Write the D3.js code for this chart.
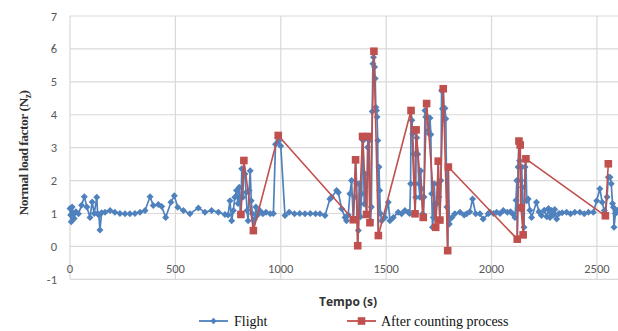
<!DOCTYPE html>
<html>
<head>
<meta charset="utf-8">
<script src="https://cdn.jsdelivr.net/npm/d3@7"></script>
<style>
  html, body { margin: 0; padding: 0; background: #fff; }
  svg { display: block; }
</style>
</head>
<body>
<svg id="chart" width="618" height="331"></svg>
<script>
// ---- DATA ----
const flightTime = [
  0,3,6,10,15,20,28,40,55,68,80,95,105,115,127,131,137,142,150,166,190,213,237,261,284,308,332,356,380,395,419,435,454,479,495,511,538,569,609,640,672,704,735,750,759,767,
  775,782,790,797,803,808,811,815,820,825,830,835,840,845,850,855,860,865,870,876,882,890,900,915,
  930,950,965,975,985,990,1000,1020,1040,1065,1090,1115,1140,1165,1186,1210,1233,1241,1265,1273,1289,1305,1312,
  1320,1328,1336,1344,1350,1355,1360,1365,1368,1372,1378,1384,1388,1391,1396,1400,1407,1412,1415,1420,1423,1426,1430,1434,1437,1440,1442,1445,1448,1451,1454,1457,1460,1463,1466,1469,1473,1479,
  1494,1510,1518,1534,1557,1573,1589,1605,
  1612,1616,1618,1622,1626,1630,1634,1637,1640,1642,1645,1650,1655,1660,1664,1668,1673,1676,1680,1684,1688,1692,1696,1700,1704,1708,1712,1716,1720,1724,1728,1732,1735,1740,1745,1747,1750,1755,1760,1763,1767,1771,1775,1779,1783,1788,1792,1795,1800,
  1812,1826,1850,1870,1882,1897,1910,1925,1945,1960,1984,1992,2010,2024,2040,2056,2075,2090,2100,2111,
  2116,2120,2122,2126,2130,2133,2136,2138,2140,2143,2146,2150,2154,2159,2163,2167,2174,2182,2190,
  2213,2225,2237,2250,2262,2270,2277,2285,2293,2300,2309,2320,2335,2356,2375,2395,2419,2440,2460,2483,2499,2514,2525,2535,2540,2548,2554,2562,2568,2574,2578,2581,2588,2593,2600
];
const flightValue = [
  1.15,0.95,0.75,1.2,1.0,0.85,1.05,0.99,1.25,1.51,1.2,0.88,1.35,1.0,1.49,0.99,0.95,0.5,1.02,1.04,1.09,1.04,1.0,0.99,0.99,1.0,1.04,1.09,1.51,1.24,1.27,1.21,0.88,1.34,1.54,1.19,1.09,0.99,1.17,1.04,1.09,1.04,0.97,0.95,1.39,0.78,
  1.09,1.49,1.7,1.3,1.8,1.0,0.97,2.36,1.49,2.61,2.2,1.64,1.09,0.78,1.7,2.3,1.39,0.99,0.48,0.83,1.2,0.95,1.09,0.99,
  1.04,0.99,1.0,3.1,3.3,3.2,3.05,0.94,1.04,0.99,1.0,0.99,1.0,0.99,0.99,0.94,1.44,1.49,1.7,1.64,1.14,0.88,0.78,
  0.95,1.6,2.0,0.81,1.5,2.63,1.9,0.02,0.48,1.9,0.9,1.6,3.34,3.22,1.29,2.2,0.97,3.01,3.34,3.22,0.72,0.78,1.2,4.1,5.55,5.75,5.93,5.45,5.1,4.23,4.13,3.93,3.22,0.33,2.41,1.7,1.0,0.78,
  0.88,1.34,0.78,0.88,1.04,0.99,1.09,1.04,
  1.0,1.9,4.13,3.83,3.42,2.81,1.9,0.99,1.49,3.54,3.3,2.8,1.9,1.49,2.3,1.75,0.99,0.88,1.5,4.13,3.93,4.34,3.93,3.52,3.42,3.9,3.4,1.6,0.58,0.88,1.9,1.29,0.58,1.3,1.9,2.59,1.5,0.80,2.0,4.74,4.18,4.79,3.88,4.2,3.88,1.2,-0.13,2.41,0.68,
  0.88,0.99,1.04,0.95,0.99,1.05,1.44,0.99,0.99,0.83,0.99,1.04,1.0,1.04,1.0,1.09,1.04,1.05,0.99,0.88,
  1.4,2.0,0.22,2.41,3.2,2.6,3.08,1.17,2.0,2.41,1.8,0.35,0.58,2.41,2.66,1.39,1.44,1.1,0.88,
  1.34,1.05,0.94,1.1,0.9,1.15,0.88,1.09,0.95,1.12,0.83,1.0,1.02,1.04,0.99,1.04,1.04,0.99,1.04,1.04,1.39,1.75,1.34,1.09,0.93,1.5,2.1,2.1,1.9,1.3,1.19,0.58,1.0,1.09,1.1
];
const countedTime = [811,825,870,988,1344,1355,1365,1388,1407,1415,1423,1442,1463,1618,1637,1642,1676,1692,1735,1747,1755,1771,1792,1795,2122,2130,2136,2140,2150,2163,2540,2554];
const countedValue = [0.97,2.61,0.48,3.37,0.81,2.63,0.02,3.34,0.97,3.34,0.72,5.93,0.33,4.13,0.99,3.54,0.88,4.34,0.58,2.59,0.80,4.79,-0.13,2.41,0.22,3.20,3.08,1.17,0.35,2.66,0.93,2.51];
const xTicks = [0,500,1000,1500,2000,2500];
const yTicks = [-1,0,1,2,3,4,5,6,7];
const seriesNames = ["Flight","After counting process"];
const xTitle = "Tempo (s)";

// ---- CHART ----
const blue = "#4f81bd", red = "#c0504d";
const svg = d3.select("#chart");
const mLeft = 70, mRight = 618, mTop = 16, mBottom = 279.3;
const x = d3.scaleLinear().domain([0, 2600]).range([mLeft, mRight]);
const y = d3.scaleLinear().domain([-1, 7]).range([mBottom, mTop]);

// gridlines
svg.append("g").selectAll("line").data(yTicks).join("line")
  .attr("x1", mLeft).attr("x2", mRight)
  .attr("y1", d => y(d)).attr("y2", d => y(d))
  .attr("stroke", "#d9d9d9").attr("stroke-width", 1.2);
svg.append("g").selectAll("line").data(xTicks).join("line")
  .attr("x1", d => x(d)).attr("x2", d => x(d))
  .attr("y1", mTop).attr("y2", mBottom)
  .attr("stroke", "#d9d9d9").attr("stroke-width", 1.2);

// y tick labels
svg.append("g").selectAll("text").data(yTicks).join("text")
  .attr("x", 57).attr("y", d => y(d) + 4.5)
  .attr("text-anchor", "end")
  .attr("font-family", "Carlito, 'Open Sans', 'Liberation Sans', sans-serif")
  .attr("font-size", 12.5).attr("fill", "#595959")
  .text(d => d);

// x tick labels
svg.append("g").selectAll("text").data(xTicks).join("text")
  .attr("x", d => x(d)).attr("y", y(0) + 27)
  .attr("text-anchor", "middle")
  .attr("font-family", "Carlito, 'Open Sans', 'Liberation Sans', sans-serif")
  .attr("font-size", 12.5).attr("fill", "#595959")
  .text(d => d);

// axis titles
svg.append("text")
  .attr("x", 348).attr("y", 306)
  .attr("text-anchor", "middle")
  .attr("font-family", "'Open Sans', 'Liberation Sans', sans-serif")
  .attr("font-weight", "bold").attr("font-size", 12).attr("fill", "#333")
  .text(xTitle);

const yt = svg.append("text")
  .attr("transform", "translate(28,153) rotate(-90)")
  .attr("text-anchor", "middle")
  .attr("font-family", "'Liberation Serif', 'DejaVu Serif', serif")
  .attr("font-weight", "bold").attr("font-size", 13.5).attr("fill", "#333")
  .attr("letter-spacing", -0.5);
yt.append("tspan").text("Normal load factor (N");
yt.append("tspan").attr("font-size", 9.5).attr("dy", 3).text("z");
yt.append("tspan").attr("dy", -3).text(")");

// series
const flight = flightTime.map((t, i) => ({t, v: flightValue[i]}));
const counted = countedTime.map((t, i) => ({t, v: countedValue[i]}));
const line = d3.line().x(d => x(d.t)).y(d => y(d.v));

const plot = svg.append("g");
plot.append("path").datum(flight).attr("d", line)
  .attr("fill", "none").attr("stroke", blue).attr("stroke-width", 1.7).attr("stroke-linejoin", "round");
const diamond = (cx, cy, r) => `M${cx},${cy - r}L${cx + r},${cy}L${cx},${cy + r}L${cx - r},${cy}Z`;
plot.append("g").selectAll("path").data(flight).join("path")
  .attr("d", d => diamond(x(d.t), y(d.v), 3.5))
  .attr("fill", blue);

plot.append("path").datum(counted).attr("d", line)
  .attr("fill", "none").attr("stroke", red).attr("stroke-width", 1.6).attr("stroke-linejoin", "round");
plot.append("g").selectAll("rect").data(counted).join("rect")
  .attr("x", d => x(d.t) - 3.8).attr("y", d => y(d.v) - 3.8)
  .attr("width", 7.6).attr("height", 7.6)
  .attr("fill", red);

// legend
const lg = svg.append("g");
const ly = 321;
const legendItems = [
  {name: seriesNames[0], color: blue, x0: 199, x1: 228, tx: 234, shape: "diamond"},
  {name: seriesNames[1], color: red, x0: 347, x1: 376, tx: 381, shape: "square"}
];
legendItems.forEach(it => {
  lg.append("line").attr("x1", it.x0).attr("x2", it.x1).attr("y1", ly).attr("y2", ly)
    .attr("stroke", it.color).attr("stroke-width", 1.8);
  const cx = (it.x0 + it.x1) / 2;
  if (it.shape === "diamond") {
    lg.append("path").attr("d", diamond(cx, ly, 3.2)).attr("fill", it.color);
  } else {
    lg.append("rect").attr("x", cx - 3.8).attr("y", ly - 3.8).attr("width", 7.6).attr("height", 7.6).attr("fill", it.color);
  }
  lg.append("text").attr("x", it.tx).attr("y", ly + 4.5)
    .attr("font-family", "'Liberation Serif', 'DejaVu Serif', serif")
    .attr("font-size", 14).attr("fill", "#111")
    .text(it.name);
});
</script>
</body>
</html>
